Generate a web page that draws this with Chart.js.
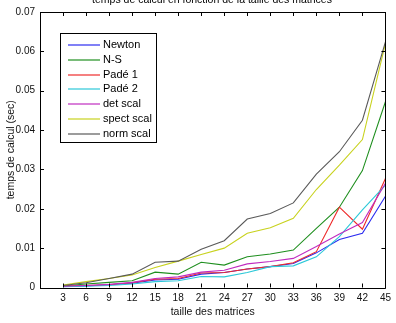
<!DOCTYPE html>
<html>
<head>
<meta charset="utf-8">
<script src="https://cdn.jsdelivr.net/npm/chart.js@4/dist/chart.umd.min.js"></script>
<style>
html, body { margin: 0; padding: 0; background: #fff; }
</style>
</head>
<body>
<canvas id="myChart" width="396" height="323"></canvas>
<script>
// matrix sizes (x axis)
const sizes = [3, 6, 9, 12, 15, 18, 21, 24, 27, 30, 33, 36, 39, 42, 45];

// computation times in seconds
const newton    = [0.0002, 0.0004, 0.0007, 0.0011, 0.0019, 0.0021, 0.0034, 0.0038, 0.0047, 0.0053, 0.0061, 0.0088, 0.0122, 0.0138, 0.0232];
const ns        = [0.0004, 0.0009, 0.0013, 0.0017, 0.0039, 0.0034, 0.0064, 0.0057, 0.0078, 0.0085, 0.0095, 0.0150, 0.0204, 0.0297, 0.0472];
const pade1     = [0.0003, 0.0005, 0.0007, 0.0012, 0.0021, 0.0023, 0.0037, 0.0038, 0.0047, 0.0053, 0.0063, 0.0091, 0.0204, 0.0148, 0.0277];
const pade2     = [0.0002, 0.0003, 0.0005, 0.0009, 0.0015, 0.0017, 0.0028, 0.0027, 0.0038, 0.0053, 0.0055, 0.0078, 0.0129, 0.0197, 0.0260];
const detScal   = [0.0003, 0.0005, 0.0008, 0.0013, 0.0023, 0.0027, 0.0039, 0.0044, 0.0060, 0.0066, 0.0074, 0.0104, 0.0136, 0.0165, 0.0265];
const spectScal = [0.0006, 0.0015, 0.0023, 0.0032, 0.0051, 0.0067, 0.0084, 0.0100, 0.0138, 0.0152, 0.0176, 0.0249, 0.0311, 0.0376, 0.0620];
const normScal  = [0.0005, 0.0012, 0.0023, 0.0034, 0.0064, 0.0067, 0.0097, 0.0119, 0.0174, 0.0188, 0.0215, 0.0288, 0.0345, 0.0425, 0.0624];

const seriesNames = ['Newton', 'N-S', 'Padé 1', 'Padé 2', 'det scal', 'spect scal', 'norm scal'];
const seriesData = [newton, ns, pade1, pade2, detScal, spectScal, normScal];
const seriesColors = ['#2b2bf0', '#1f8f1f', '#ee2a2a', '#2cc8d8', '#c02cc0', '#c8d21e', '#5a5a5a'];

const yTicks = [0, 0.01, 0.02, 0.03, 0.04, 0.05, 0.06, 0.07];

const FONT = 'Liberation Sans, Arial, sans-serif';

// frame, inward ticks, title and legend box (matlab style)
const matlabLook = {
    id: 'matlabLook',
    afterDatasetsDraw(chart) {
        const ctx = chart.ctx;
        const a = chart.chartArea;
        const xs = chart.scales.x;
        const ys = chart.scales.y;
        ctx.save();
        ctx.strokeStyle = '#000';
        ctx.lineWidth = 1;
        ctx.beginPath();
        ctx.rect(Math.round(a.left) + 0.5, Math.round(a.top) + 0.5,
                 Math.round(a.right - a.left), Math.round(a.bottom - a.top));
        ctx.stroke();

        // ticks pointing inside
        ctx.beginPath();
        sizes.forEach(v => {
            const px = Math.round(xs.getPixelForValue(v)) + 0.5;
            ctx.moveTo(px, a.bottom); ctx.lineTo(px, a.bottom - 4);
            ctx.moveTo(px, a.top); ctx.lineTo(px, a.top + 4);
        });
        yTicks.forEach(v => {
            const py = Math.round(ys.getPixelForValue(v)) + 0.5;
            ctx.moveTo(a.left, py); ctx.lineTo(a.left + 4, py);
            ctx.moveTo(a.right, py); ctx.lineTo(a.right - 4, py);
        });
        ctx.stroke();

        // title, half cut off at the top like the original
        ctx.fillStyle = '#000';
        ctx.font = '10.5px ' + FONT;
        ctx.textAlign = 'center';
        ctx.textBaseline = 'alphabetic';
        ctx.fillText('temps de calcul en fonction de la taille des matrices', 212, 3);

        // legend
        const lx = 60.5, ly = 33.5, lw = 96, lh = 109;
        ctx.fillStyle = '#fff';
        ctx.fillRect(lx, ly, lw, lh);
        ctx.strokeStyle = '#000';
        ctx.strokeRect(lx, ly, lw, lh);
        ctx.font = '11px ' + FONT;
        ctx.textAlign = 'left';
        ctx.textBaseline = 'middle';
        seriesNames.forEach((name, i) => {
            const y = Math.round(45 + i * 14.8);
            ctx.strokeStyle = seriesColors[i];
            ctx.lineWidth = 1.2;
            ctx.beginPath();
            ctx.moveTo(68, y);
            ctx.lineTo(100, y);
            ctx.stroke();
            ctx.fillStyle = '#000';
            ctx.fillText(name, 103, y);
        });
        ctx.restore();
    }
};

const ctx = document.getElementById('myChart').getContext('2d');
const myChart = new Chart(ctx, {
    type: 'line',
    data: {
        datasets: seriesNames.map((name, i) => ({
            label: name,
            data: sizes.map((s, j) => ({ x: s, y: seriesData[i][j] })),
            borderColor: seriesColors[i],
            backgroundColor: seriesColors[i],
            borderWidth: 1.1,
            pointRadius: 0,
            tension: 0,
            fill: false,
            order: seriesNames.length - i
        }))
    },
    options: {
        responsive: false,
        animation: false,
        layout: { padding: { top: 12, right: 6.5, left: 0, bottom: 0 } },
        plugins: {
            legend: { display: false },
            title: { display: false },
            tooltip: { enabled: false }
        },
        scales: {
            x: {
                type: 'linear',
                min: 0,
                max: 45,
                grid: { display: false, drawTicks: false },
                border: { display: false },
                afterBuildTicks: s => { s.ticks = sizes.map(v => ({ value: v })); },
                afterFit: s => { s.height = 35.5; },
                ticks: {
                    color: '#111',
                    font: { family: FONT, size: 10 },
                    padding: 5,
                    maxRotation: 0,
                    autoSkip: false
                },
                title: {
                    display: true,
                    text: 'taille des matrices',
                    color: '#111',
                    font: { family: FONT, size: 10.5 },
                    padding: { top: 0, bottom: 4.5 }
                }
            },
            y: {
                min: 0,
                max: 0.07,
                grid: { display: false, drawTicks: false },
                border: { display: false },
                afterBuildTicks: s => { s.ticks = yTicks.map(v => ({ value: v })); },
                afterFit: s => { s.width = 40; },
                ticks: {
                    color: '#111',
                    font: { family: FONT, size: 10 },
                    padding: 5,
                    callback: v => v === 0 ? '0' : v.toFixed(2)
                },
                title: {
                    display: true,
                    text: 'temps de calcul (sec)',
                    color: '#111',
                    font: { family: FONT, size: 10.5 },
                    padding: { top: 4.5, bottom: 0 }
                }
            }
        }
    },
    plugins: [matlabLook]
});
</script>
</body>
</html>
